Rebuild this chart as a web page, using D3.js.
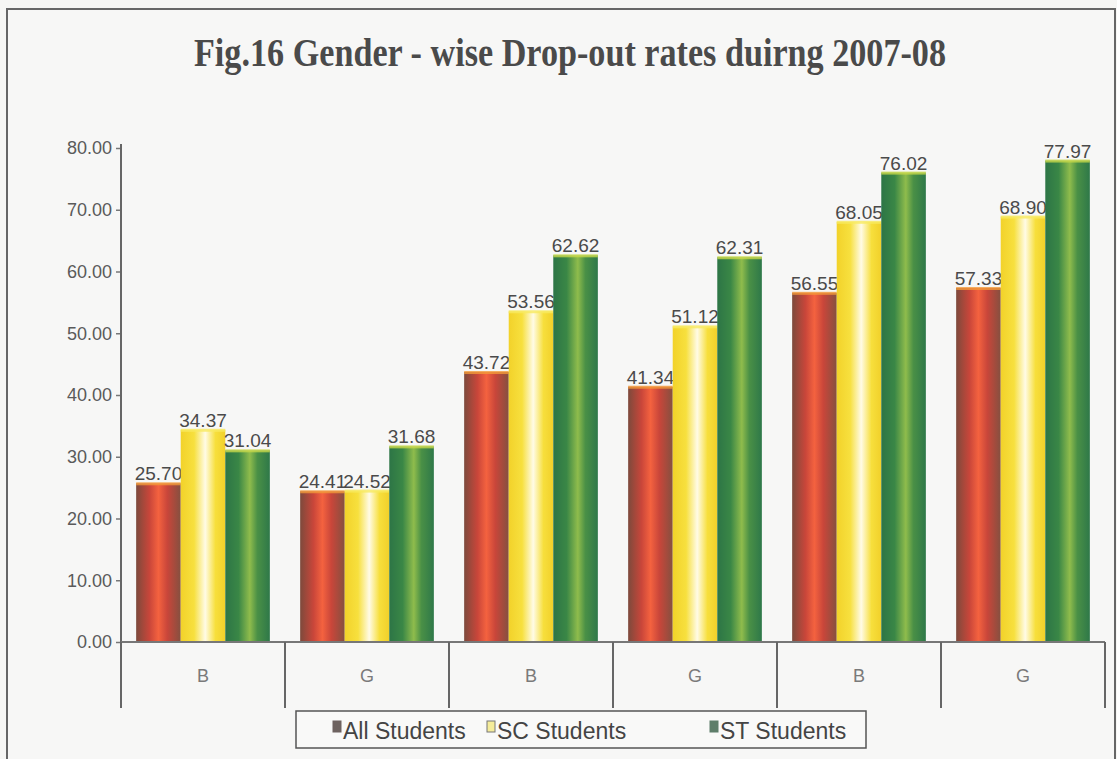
<!DOCTYPE html>
<html>
<head>
  <meta charset="utf-8" />
  <script src="https://d3js.org/d3.v7.min.js"></script>
  <style>
    body { margin: 0; background: #f4f4f2; }
    text { font-family: Arial, 'Liberation Sans', sans-serif; }
  </style>
</head>
<body>
  <svg id="chart" width="1117" height="759"></svg>
  <script>
    const categories = ["B", "G", "B", "G", "B", "G"];
    const seriesNames = ["All Students", "SC Students", "ST Students"];
    const allStudents = [25.70, 24.41, 43.72, 41.34, 56.55, 57.33];
    const scStudents = [34.37, 24.52, 53.56, 51.12, 68.05, 68.90];
    const stStudents = [31.04, 31.68, 62.62, 62.31, 76.02, 77.97];
    const yTicks = [0, 10, 20, 30, 40, 50, 60, 70, 80];

    const series = [allStudents, scStudents, stStudents];
    const svg = d3.select("#chart");
    const margin = { left: 121, right: 12, top: 148, bottom: 117 };
    const width = 1117, height = 759;

    // outer frame
    svg.append("rect").attr("x", 0).attr("y", 0).attr("width", width).attr("height", height).attr("fill", "#f6f6f4");
    svg.append("rect").attr("x", 7).attr("y", 9).attr("width", 1108).attr("height", 760)
      .attr("fill", "#f7f7f6").attr("stroke", "#666").attr("stroke-width", 2);

    svg.append("text")
      .attr("x", 570).attr("y", 66)
      .attr("text-anchor", "middle")
      .attr("textLength", 752).attr("lengthAdjust", "spacingAndGlyphs")
      .style("font-family", "'Liberation Serif', 'Times New Roman', serif")
      .style("font-weight", "bold").style("font-size", "40px")
      .attr("fill", "#4a4a4a")
      .text("Fig.16 Gender - wise Drop-out rates duirng 2007-08");

    // gradients
    const defs = svg.append("defs");
    const grads = [
      [["0%", "#7d4a3c"], ["30%", "#c9463a"], ["50%", "#f4623f"], ["70%", "#c9463a"], ["100%", "#855040"]],
      [["0%", "#f2d22a"], ["30%", "#f7e03e"], ["55%", "#fffbe6"], ["78%", "#f7df3c"], ["100%", "#f1d02a"]],
      [["0%", "#2d7546"], ["30%", "#3a8746"], ["55%", "#8fbc4c"], ["72%", "#4a9046"], ["100%", "#2e7849"]]
    ];
    grads.forEach((stops, i) => {
      const g = defs.append("linearGradient").attr("id", "g" + i)
        .attr("x1", "0%").attr("x2", "100%").attr("y1", "0%").attr("y2", "0%");
      stops.forEach(s => g.append("stop").attr("offset", s[0]).attr("stop-color", s[1]));
    });
    const capColors = ["#f29a3a", "#f7ea60", "#c8d84a"];

    const x0 = d3.scaleBand().domain(d3.range(categories.length))
      .range([margin.left, width - margin.right]);
    const x1 = d3.scaleBand().domain(d3.range(seriesNames.length))
      .range([0, x0.bandwidth()]).paddingOuter(0.34);
    const y = d3.scaleLinear().domain([0, 80]).range([height - margin.bottom, margin.top]);

    // y axis
    const yAxis = svg.append("g").attr("transform", "translate(" + margin.left + ",0)")
      .call(d3.axisLeft(y).tickValues(yTicks).tickFormat(d3.format(".2f")).tickSize(5).tickPadding(4));
    yAxis.select(".domain").remove();
    yAxis.selectAll(".tick line").attr("stroke", "#777").attr("stroke-width", 1.5);
    yAxis.selectAll(".tick text").attr("fill", "#5a5a5a").style("font-size", "18px");
    svg.append("line").attr("x1", margin.left).attr("x2", margin.left)
      .attr("y1", margin.top - 4).attr("y2", 708).attr("stroke", "#666").attr("stroke-width", 2);

    // bars
    const groups = svg.append("g").selectAll("g").data(categories).join("g")
      .attr("transform", (d, i) => "translate(" + x0(i) + ",0)");
    seriesNames.forEach((name, s) => {
      groups.append("rect")
        .attr("x", x1(s)).attr("width", x1.bandwidth())
        .attr("y", (d, i) => y(series[s][i]))
        .attr("height", (d, i) => y(0) - y(series[s][i]))
        .attr("fill", "url(#g" + s + ")");
      groups.append("rect")
        .attr("x", x1(s)).attr("width", x1.bandwidth())
        .attr("y", (d, i) => y(series[s][i]) - 1).attr("height", 3)
        .attr("fill", capColors[s]).attr("opacity", 0.8);
      groups.append("text")
        .attr("x", x1(s) + x1.bandwidth() / 2)
        .attr("y", (d, i) => y(series[s][i]) - 3)
        .attr("text-anchor", "middle")
        .attr("fill", "#4a4a4a").style("font-size", "19px")
        .text((d, i) => series[s][i].toFixed(2));
    });

    // x axis
    svg.append("line").attr("x1", margin.left).attr("x2", width - margin.right)
      .attr("y1", y(0)).attr("y2", y(0)).attr("stroke", "#777").attr("stroke-width", 2);
    svg.append("g").selectAll("line").data(d3.range(categories.length + 1)).join("line")
      .attr("x1", i => margin.left + i * x0.bandwidth()).attr("x2", i => margin.left + i * x0.bandwidth())
      .attr("y1", y(0)).attr("y2", 708).attr("stroke", "#666").attr("stroke-width", 2);
    svg.append("g").selectAll("text").data(categories).join("text")
      .attr("x", (d, i) => x0(i) + x0.bandwidth() / 2).attr("y", 682)
      .attr("text-anchor", "middle").attr("fill", "#7a7a7a").style("font-size", "18px")
      .text(d => d);

    // legend
    const legend = svg.append("g");
    legend.append("rect").attr("x", 296).attr("y", 711).attr("width", 570).attr("height", 37)
      .attr("fill", "#f9f9f8").attr("stroke", "#555").attr("stroke-width", 1.5);
    const legendX = [333, 487, 710];
    const markColors = [["#6e6360", "#6e6360"], ["#f5ec9a", "#777"], ["#5e7e6a", "#5e7e6a"]];
    seriesNames.forEach((name, s) => {
      legend.append("rect").attr("x", legendX[s]).attr("y", 721).attr("width", 8).attr("height", 11)
        .attr("fill", markColors[s][0]).attr("stroke", markColors[s][1]).attr("stroke-width", 1);
      legend.append("text").attr("x", legendX[s] + 10).attr("y", 739)
        .attr("fill", "#444").style("font-size", "23px").text(name);
    });
  </script>
</body>
</html>
